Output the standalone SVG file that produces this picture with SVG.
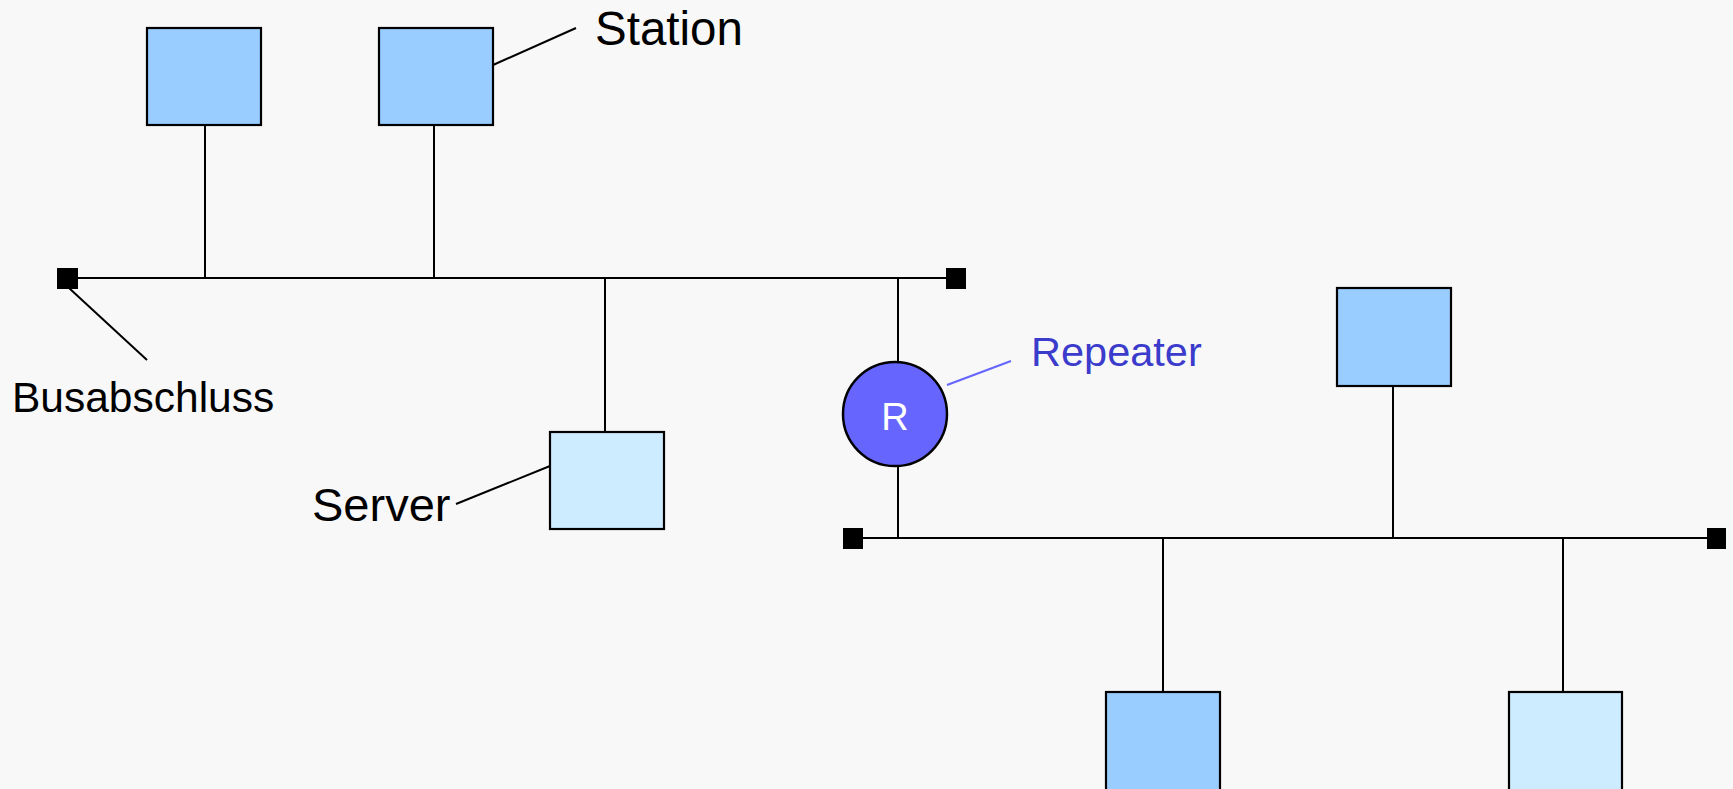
<svg xmlns="http://www.w3.org/2000/svg" width="1733" height="789" viewBox="0 0 1733 789">
<style>
.box{stroke:#000;stroke-width:2.2}
.st{fill:#99ccff}
.sv{fill:#cdecff}
.ln{stroke:#000;stroke-width:2;fill:none}
.term{fill:#000}
.lbl{font-family:"Liberation Sans",Arial,sans-serif;fill:#000}
</style>
<rect width="1733" height="789" fill="#f8f8f8"/>
<g id="connectors">
<line class="ln" x1="67" y1="278" x2="956" y2="278"/>
<line class="ln" x1="853" y1="538" x2="1716" y2="538"/>
<line class="ln" x1="205" y1="125" x2="205" y2="278"/>
<line class="ln" x1="434" y1="125" x2="434" y2="278"/>
<line class="ln" x1="605" y1="278" x2="605" y2="431"/>
<line class="ln" x1="898" y1="278" x2="898" y2="362"/>
<line class="ln" x1="898" y1="466" x2="898" y2="538"/>
<line class="ln" x1="1393" y1="386" x2="1393" y2="538"/>
<line class="ln" x1="1163" y1="538" x2="1163" y2="692"/>
<line class="ln" x1="1563" y1="538" x2="1563" y2="692"/>
<line class="ln" x1="493" y1="65" x2="576" y2="28"/>
<line class="ln" x1="69" y1="288" x2="147" y2="360"/>
<line class="ln" x1="456" y1="504" x2="550" y2="466"/>
<line x1="947" y1="385" x2="1011" y2="361" stroke="#6666ff" stroke-width="2.2"/>
</g>
<g id="terminators">
<rect class="term" x="57" y="268" width="21" height="21"/>
<rect class="term" x="946" y="268" width="20" height="21"/>
<rect class="term" x="843" y="528" width="20" height="21"/>
<rect class="term" x="1707" y="528" width="19" height="21"/>
</g>
<g id="station1"><rect class="box st" x="147" y="28" width="114" height="97"/></g>
<g id="station2"><rect class="box st" x="379" y="28" width="114" height="97"/></g>
<g id="server1"><rect class="box sv" x="550" y="432" width="114" height="97"/></g>
<g id="repeater">
<circle cx="895" cy="414" r="52" fill="#6666ff" stroke="#000" stroke-width="2.5"/>
<text x="895" y="430" text-anchor="middle" font-family="Liberation Sans, Arial, sans-serif" font-size="38" fill="#ffffff">R</text>
</g>
<g id="station3"><rect class="box st" x="1337" y="288" width="114" height="98"/></g>
<g id="station4"><rect class="box st" x="1106" y="692" width="114" height="100"/></g>
<g id="server2"><rect class="box sv" x="1509" y="692" width="113" height="100"/></g>
<g id="labels">
<text class="lbl" x="595" y="45" font-size="47.5">Station</text>
<text class="lbl" x="12" y="412" font-size="42.5">Busabschluss</text>
<text class="lbl" x="312" y="521" font-size="47">Server</text>
<text x="1031" y="366" font-family="Liberation Sans, Arial, sans-serif" font-size="41.5" fill="#3b3bcc">Repeater</text>
</g>
</svg>
